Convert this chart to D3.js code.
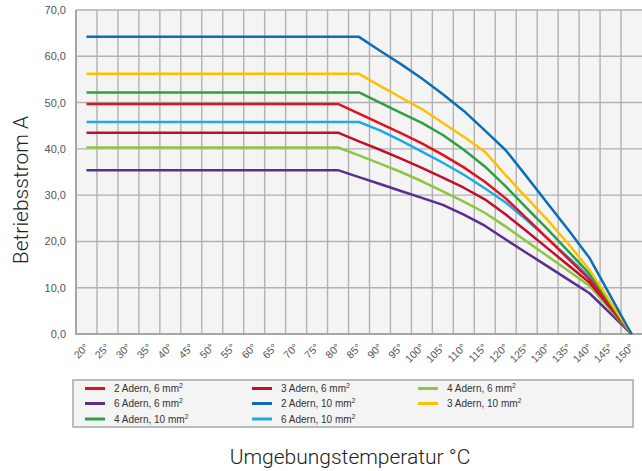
<!DOCTYPE html>
<html><head><meta charset="utf-8">
<script src="https://cdn.jsdelivr.net/npm/d3@7"></script>
<style>
html,body{margin:0;padding:0;background:#fff;}
svg{display:block;}
</style></head>
<body>
<svg id="chart" width="642" height="471"></svg>
<script>
// ---- data ----
const temps = ["20°","25°","30°","35°","40°","45°","50°","55°","60°","65°","70°","75°","80°","85°","90°","95°","100°","105°","110°","115°","120°","125°","130°","135°","140°","145°","150°"];
const yTicks = [0,10,20,30,40,50,60,70];
const seriesNames = ["2 Adern, 6 mm","3 Adern, 6 mm","4 Adern, 6 mm","6 Adern, 6 mm","2 Adern, 10 mm","3 Adern, 10 mm","4 Adern, 10 mm","6 Adern, 10 mm"];
const seriesColors = ["#E3101E","#C10E2C","#8DC640","#5B2E8E","#0A6FB7","#FDC000","#2E9E43","#1CACE3"];
const s2x6  = [49.7,49.7,49.7,49.7,49.7,49.7,49.7,49.7,49.7,49.7,49.7,49.7,49.7,47.6,45.5,43.4,41.2,38.7,36.0,32.9,29.3,25.0,20.6,16.2,11.8,5.9,0];
const s3x6  = [43.5,43.5,43.5,43.5,43.5,43.5,43.5,43.5,43.5,43.5,43.5,43.5,43.5,41.6,39.8,37.9,35.9,33.8,31.6,29.1,25.8,22.2,18.5,14.8,11.1,5.6,0];
const s4x6  = [40.3,40.3,40.3,40.3,40.3,40.3,40.3,40.3,40.3,40.3,40.3,40.3,40.3,38.6,36.8,35.0,33.0,30.8,28.6,26.2,23.2,20.0,16.8,13.6,10.4,5.2,0];
const s6x6  = [35.4,35.4,35.4,35.4,35.4,35.4,35.4,35.4,35.4,35.4,35.4,35.4,35.4,33.9,32.4,30.9,29.4,27.9,25.8,23.4,20.4,17.5,14.6,11.7,8.8,4.4,0];
const s2x10 = [64.2,64.2,64.2,64.2,64.2,64.2,64.2,64.2,64.2,64.2,64.2,64.2,64.2,64.2,61.2,58.3,55.2,51.8,48.2,44.0,39.7,34.0,28.2,22.4,16.4,8.2,0];
const s3x10 = [56.2,56.2,56.2,56.2,56.2,56.2,56.2,56.2,56.2,56.2,56.2,56.2,56.2,56.2,53.6,51.1,48.6,45.6,42.6,39.4,34.3,29.4,24.6,19.4,13.8,6.9,0];
const s4x10 = [52.2,52.2,52.2,52.2,52.2,52.2,52.2,52.2,52.2,52.2,52.2,52.2,52.2,52.2,50.0,47.8,45.6,43.0,39.8,36.2,31.9,27.2,22.6,17.8,13.0,6.5,0];
const s6x10 = [45.8,45.8,45.8,45.8,45.8,45.8,45.8,45.8,45.8,45.8,45.8,45.8,45.8,45.8,44.0,41.8,39.4,37.0,34.4,31.5,28.4,24.6,20.6,16.5,12.3,6.2,0];
const seriesValues = [s2x6,s3x6,s4x6,s6x6,s2x10,s3x10,s4x10,s6x10];
// drawing order (back to front)
const drawOrder = [3,2,1,7,0,6,5,4];

const svg = d3.select("#chart");
const L = 76, R = 642, T = 10, B = 334;
const x = d3.scaleBand().domain(temps).range([L, R]).paddingInner(0).paddingOuter(0);
const y = d3.scaleLinear().domain([0,70]).range([B, T]);
const cx = d => x(d) + x.bandwidth()/2;

const tickFont = "'Liberation Sans', Arial, sans-serif";
const titleFont = "Roboto, 'Liberation Sans', sans-serif";

// plot background
svg.append("rect").attr("x", L).attr("y", T).attr("width", R - L).attr("height", B - T).attr("fill", "#F4F4F4");

// grid
const grid = svg.append("g");
grid.selectAll("line.h").data(yTicks.filter(v => v > 0)).join("line")
  .attr("x1", L).attr("x2", R).attr("y1", d => y(d)).attr("y2", d => y(d))
  .attr("stroke", "#B2B2B2").attr("stroke-width", 1.4);
grid.selectAll("line.v").data(temps.slice(1)).join("line")
  .attr("x1", d => x(d)).attr("x2", d => x(d)).attr("y1", T).attr("y2", B)
  .attr("stroke", "#B2B2B2").attr("stroke-width", 1.4);

// axes border
svg.append("line").attr("x1", L).attr("x2", L).attr("y1", T).attr("y2", B + 1).attr("stroke", "#A6A6A6").attr("stroke-width", 2);
svg.append("line").attr("x1", L).attr("x2", R).attr("y1", B).attr("y2", B).attr("stroke", "#A6A6A6").attr("stroke-width", 2);

// y axis labels
const yAxis = d3.axisLeft(y).tickValues(yTicks).tickSize(0).tickPadding(10)
  .tickFormat(d => d3.format(".1f")(d).replace(".", ","));
const gy = svg.append("g").attr("transform", `translate(${L},0)`).call(yAxis);
gy.select(".domain").remove();
gy.selectAll("text").attr("font-family", tickFont).attr("font-size", 11).attr("fill", "#555");

// x axis labels
const xAxis = d3.axisBottom(x).tickSize(0).tickPadding(0);
const gx = svg.append("g").attr("transform", `translate(0,${B})`).call(xAxis);
gx.select(".domain").remove();
gx.selectAll("text")
  .attr("font-family", tickFont).attr("font-size", 10.5).attr("fill", "#555")
  .attr("text-anchor", "end").attr("dy", null).attr("y", 0).attr("x", 0)
  .attr("transform", "translate(3,14) rotate(-45)");

// lines
const line = d3.line().x((d, i) => cx(temps[i])).y(d => y(d));
svg.append("g").selectAll("path").data(drawOrder).join("path")
  .attr("d", k => line(seriesValues[k]))
  .attr("fill", "none").attr("stroke", k => seriesColors[k]).attr("stroke-width", 2.5)
  .attr("stroke-linejoin", "round");

// axis titles
svg.append("text").attr("transform", "translate(28,190) rotate(-90)")
  .attr("text-anchor", "middle").attr("font-family", titleFont).attr("font-weight", 300)
  .attr("font-size", 21).attr("fill", "#222").text("Betriebsstrom A");
svg.append("text").attr("x", 350).attr("y", 464)
  .attr("text-anchor", "middle").attr("font-family", titleFont).attr("font-weight", 300)
  .attr("font-size", 21).attr("fill", "#222").text("Umgebungstemperatur °C");

// legend
const lg = svg.append("g");
lg.append("rect").attr("x", 73).attr("y", 380).attr("width", 560).attr("height", 47)
  .attr("fill", "#F4F4F4").attr("stroke", "#A8A8A8").attr("stroke-width", 1.5);
const colX = [85, 252, 418];
const rowY = [388.5, 403.5, 419];
const items = lg.selectAll("g.item").data(seriesNames).join("g")
  .attr("transform", (d, i) => `translate(${colX[i % 3]},${rowY[Math.floor(i / 3)]})`);
items.append("line").attr("x1", 0).attr("x2", 20).attr("y1", 0).attr("y2", 0)
  .attr("stroke", (d, i) => seriesColors[i]).attr("stroke-width", 3);
const lt = items.append("text").attr("x", 29).attr("y", 3.5)
  .attr("font-family", tickFont).attr("font-size", 10).attr("fill", "#333");
lt.append("tspan").text(d => d);
lt.append("tspan").attr("font-size", 7).attr("dy", -4).text("2");
</script>
</body></html>
